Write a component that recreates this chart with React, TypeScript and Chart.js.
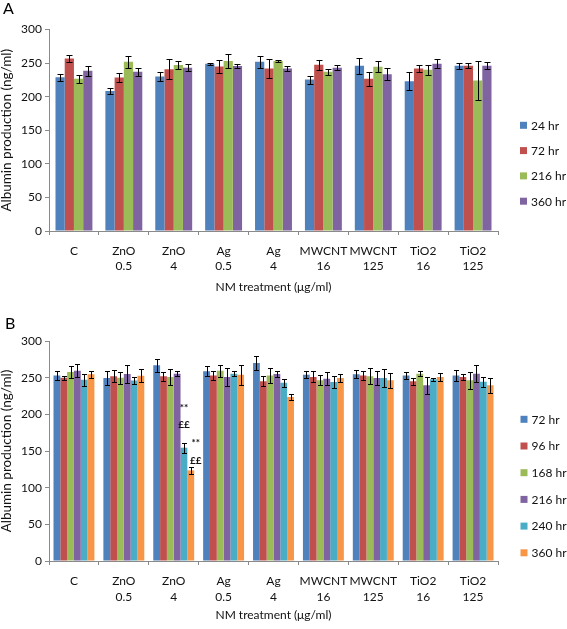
import React, { useEffect, useRef } from "react";
import { Chart, registerables } from "chart.js";

Chart.register(...registerables);

// ---------- data ----------
const categories: string[][] = [
  ["C"],
  ["ZnO", "0.5"],
  ["ZnO", "4"],
  ["Ag", "0.5"],
  ["Ag", "4"],
  ["MWCNT", "16"],
  ["MWCNT", "125"],
  ["TiO2", "16"],
  ["TiO2", "125"],
];

// Panel A
const seriesA = ["24 hr", "72 hr", "216 hr", "360 hr"];
const a24 = [229, 208.5, 230, 249, 252, 225.5, 246, 223, 246];
const a24Err = [5, 4, 7, 1.5, 9, 6, 12, 13.5, 4.5];
const a72 = [257, 228.5, 241, 245, 242, 247.5, 226.5, 242, 246];
const a72Err = [5.5, 6, 15, 10, 14, 7.5, 10.5, 5, 4];
const a216 = [226.5, 252, 247, 253, 253, 237, 244.5, 240, 224];
const a216Err = [6, 9, 6, 11, 2, 4, 8.5, 7, 29];
const a360 = [238.5, 237, 243, 245.5, 242, 243, 233.5, 249, 246];
const a360Err = [7, 6, 5, 3.5, 4, 4, 8.5, 7, 5];

// Panel B
const seriesB = ["72 hr", "96 hr", "168 hr", "216 hr", "240 hr", "360 hr"];
const b72 = [253, 249.5, 267, 258.6, 270, 254, 254.5, 253, 253];
const b72Err = [6, 10, 9, 7, 10, 4.5, 5.5, 5, 8];
const b96 = [250, 252, 252, 253, 245, 251, 253, 245, 251];
const b96Err = [2.5, 8, 6, 6, 7, 7.5, 5.5, 4.5, 4];
const b168 = [257.7, 250, 251, 259.5, 253, 246.4, 251.8, 255.5, 246.4];
const b168Err = [8, 8, 11, 8, 10, 7, 11, 3.5, 12];
const b216 = [259.5, 255, 255.5, 251, 255, 248.6, 249.5, 239.5, 255.5];
const b216Err = [9, 12, 3.5, 12, 4, 8.5, 10, 12, 12];
const b240 = [247, 246, 154.5, 255.5, 243, 244, 249.5, 248, 244.5];
const b240Err = [8, 5, 7, 3.5, 5.5, 8, 12, 2, 7];
const b360 = [254.5, 252.7, 123.6, 254, 223.6, 249.5, 246.4, 251, 239.5];
const b360Err = [5, 8.5, 4.5, 13.5, 3.5, 6, 10.5, 6, 10];

// significance marks in panel B: [categoryIndex, datasetIndex, value, text]
const marksB: [number, number, number, string][] = [
  [2, 4, 209, "**"],
  [2, 4, 186, "££"],
  [2, 5, 161, "**"],
  [2, 5, 137, "££"],
];

const yTicks = [0, 50, 100, 150, 200, 250, 300];
const yTitle = "Albumin production (ng/ml)";
const xTitle = "NM treatment (μg/ml)";

const colorsA = ["#4F81BD", "#C0504D", "#9BBB59", "#8064A2"];
const colorsB = ["#4F81BD", "#C0504D", "#9BBB59", "#8064A2", "#4BACC6", "#F79646"];

const FONT = "Lato, 'Open Sans', sans-serif";
const TEXT = "#111";
const AXIS = "#8a8a8a";

// ---------- plugins ----------
const errorBarPlugin = {
  id: "errorBars",
  afterDatasetsDraw(chart: any, _args: any, opts: any) {
    const errs: number[][] = opts.errors;
    if (!errs) return;
    const y = chart.scales.y;
    const ctx = chart.ctx;
    const c = opts.cap ?? 3;
    ctx.save();
    ctx.strokeStyle = "#000";
    ctx.lineWidth = 1;
    chart.data.datasets.forEach((ds: any, di: number) => {
      const meta = chart.getDatasetMeta(di);
      meta.data.forEach((bar: any, i: number) => {
        const v = ds.data[i];
        const e = errs[di][i];
        const x = Math.round(bar.x) + 0.5;
        const yt = Math.round(y.getPixelForValue(v + e)) + 0.5;
        const yb = Math.round(y.getPixelForValue(v - e)) + 0.5;
        ctx.beginPath();
        ctx.moveTo(x, yt);
        ctx.lineTo(x, yb);
        ctx.moveTo(x - c, yt);
        ctx.lineTo(x + c, yt);
        ctx.moveTo(x - c, yb);
        ctx.lineTo(x + c, yb);
        ctx.stroke();
      });
    });
    ctx.restore();
  },
};

const sideLegendPlugin = {
  id: "sideLegend",
  afterDraw(chart: any, _args: any, opts: any) {
    const ctx = chart.ctx;
    ctx.save();
    ctx.font = `12px ${FONT}`;
    ctx.textBaseline = "middle";
    ctx.textAlign = "left";
    chart.data.datasets.forEach((ds: any, i: number) => {
      const cy = opts.top + i * opts.step;
      ctx.fillStyle = ds.backgroundColor;
      ctx.fillRect(opts.left, cy - 3.5, 7, 7);
      ctx.fillStyle = TEXT;
      ctx.fillText(ds.label, opts.left + 11, cy + 0.5);
    });
    // panel letter
    if (opts.panel) {
      ctx.font = `16px ${FONT}`;
      ctx.textBaseline = "alphabetic";
      ctx.fillStyle = "#000";
      ctx.fillText(opts.panel, opts.panelX, opts.panelY);
    }
    ctx.restore();
  },
};

const marksPlugin = {
  id: "marks",
  afterDatasetsDraw(chart: any, _args: any, opts: any) {
    const items: [number, number, number, string][] = opts.items;
    if (!items) return;
    const ctx = chart.ctx;
    const y = chart.scales.y;
    ctx.save();
    ctx.font = `bold 10px ${FONT}`;
    ctx.fillStyle = TEXT;
    ctx.textBaseline = "middle";
    ctx.textAlign = "center";
    items.forEach(([ci, di, v, t], k) => {
      const bar = chart.getDatasetMeta(di).data[ci];
      const dx = k < 2 ? 0 : 5;
      ctx.fillText(t, bar.x + dx, y.getPixelForValue(v));
    });
    ctx.restore();
  },
};

// ---------- panel component ----------
type PanelProps = {
  top: number;
  height: number;
  labels: string[];
  values: number[][];
  errors: number[][];
  colors: string[];
  chartTop: number;
  chartBottom: number;
  catPct: number;
  cap: number;
  legendTop: number;
  legendStep: number;
  legendLeft: number;
  panel: string;
  panelX: number;
  panelY: number;
  tickLine: number;
  tickPad: number;
  xTitlePad: number;
  marks?: [number, number, number, string][];
};

function Panel(p: PanelProps) {
  const ref = useRef<HTMLCanvasElement | null>(null);
  useEffect(() => {
    if (!ref.current) return;
    const xHeight = p.height - p.chartBottom;
    const chart = new Chart(ref.current, {
      type: "bar",
      data: {
        labels: categories as any,
        datasets: p.labels.map((l, i) => ({
          label: l,
          data: p.values[i],
          backgroundColor: p.colors[i],
          borderWidth: 0,
          barPercentage: 1,
          categoryPercentage: p.catPct,
        })),
      },
      options: {
        animation: false,
        responsive: false,
        maintainAspectRatio: false,
        layout: { padding: { top: p.chartTop, right: 567 - 498, left: 0, bottom: 0 } },
        plugins: {
          legend: { display: false },
          tooltip: { enabled: false },
          errorBars: { errors: p.errors, cap: p.cap },
          sideLegend: {
            top: p.legendTop,
            step: p.legendStep,
            left: p.legendLeft,
            panel: p.panel,
            panelX: p.panelX,
            panelY: p.panelY,
          },
          marks: { items: p.marks },
        } as any,
        scales: {
          x: {
            offset: true,
            grid: {
              display: true,
              drawOnChartArea: false,
              drawTicks: true,
              tickLength: 4,
              offset: true,
              color: AXIS,
            },
            border: { display: true, color: AXIS },
            ticks: {
              font: { family: FONT, size: 12, lineHeight: p.tickLine },
              color: TEXT,
              padding: p.tickPad,
              maxRotation: 0,
              autoSkip: false,
            },
            title: {
              display: true,
              text: xTitle,
              font: { family: FONT, size: 12, lineHeight: 1.2 },
              color: TEXT,
              padding: { top: 0, bottom: p.xTitlePad },
            },
            afterFit: (s: any) => {
              s.height = xHeight;
            },
          },
          y: {
            min: 0,
            max: 300,
            afterBuildTicks: (s: any) => {
              s.ticks = yTicks.map((v) => ({ value: v }));
            },
            grid: {
              display: true,
              drawOnChartArea: false,
              drawTicks: true,
              tickLength: 4,
              color: AXIS,
            },
            border: { display: true, color: AXIS },
            ticks: {
              font: { family: FONT, size: 12 },
              color: TEXT,
              padding: 3,
            },
            title: {
              display: true,
              text: yTitle,
              font: { family: FONT, size: 13.5, lineHeight: 1.0 },
              color: TEXT,
              padding: { top: 0, bottom: 0 },
            },
            afterFit: (s: any) => {
              s.width = 49;
            },
          },
        },
      },
      plugins: [errorBarPlugin, sideLegendPlugin, marksPlugin],
    });
    return () => chart.destroy();
  }, []);
  return (
    <canvas
      ref={ref}
      width={567}
      height={p.height}
      style={{ position: "absolute", left: 0, top: p.top, width: 567, height: p.height }}
    />
  );
}

export default function App() {
  return (
    <div
      style={{
        position: "absolute",
        left: 0,
        top: 0,
        width: 567,
        height: 629,
        background: "#fff",
        overflow: "hidden",
      }}
    >
      <Panel
        top={0}
        height={315}
        labels={seriesA}
        values={[a24, a72, a216, a360]}
        errors={[a24Err, a72Err, a216Err, a360Err]}
        colors={colorsA}
        chartTop={29.5}
        chartBottom={231}
        catPct={0.74}
        cap={3}
        legendTop={125.3}
        legendStep={25.3}
        legendLeft={520}
        panel="A"
        panelX={3}
        panelY={13.5}
        tickLine={1.3}
        tickPad={8}
        xTitlePad={21}
      />
      <Panel
        top={315}
        height={314}
        labels={seriesB}
        values={[b72, b96, b168, b216, b240, b360]}
        errors={[b72Err, b96Err, b168Err, b216Err, b240Err, b360Err]}
        colors={colorsB}
        chartTop={26}
        chartBottom={246}
        catPct={0.82}
        cap={2.5}
        legendTop={104.3}
        legendStep={26.7}
        legendLeft={520.5}
        panel="B"
        panelX={5}
        panelY={14.3}
        tickLine={1.35}
        tickPad={8}
        xTitlePad={7}
        marks={marksB}
      />
    </div>
  );
}
